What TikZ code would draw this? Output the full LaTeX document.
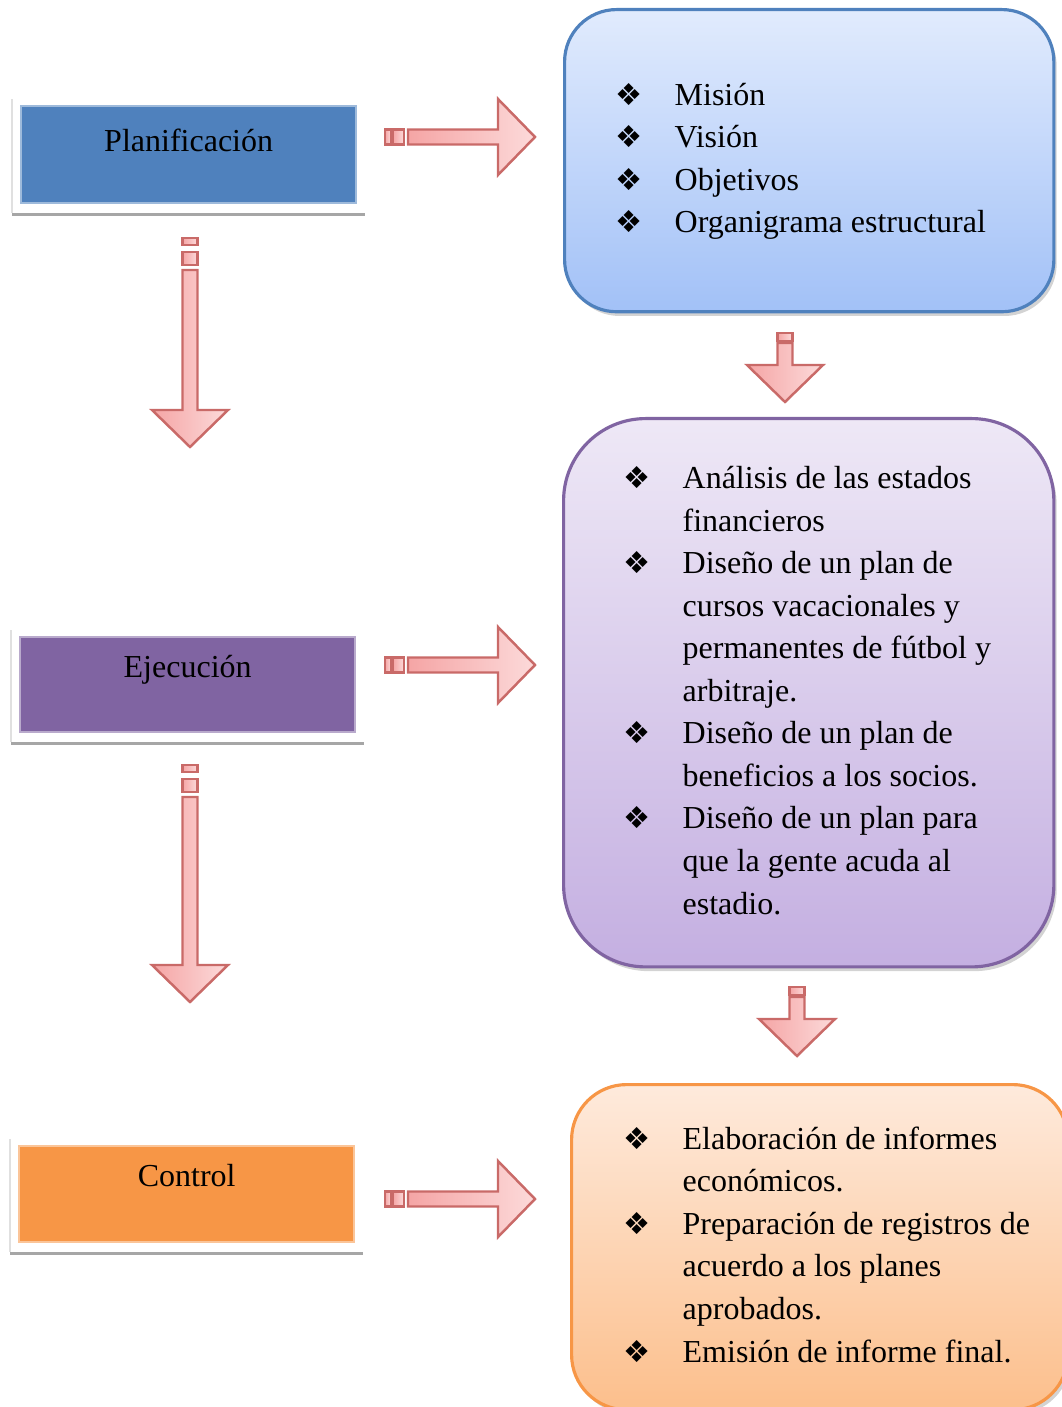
\documentclass[tikz,border=0pt]{standalone}
\usepackage{fontspec}
\setmainfont{Liberation Serif}
\newfontfamily\simbolos{DejaVu Sans}
\usetikzlibrary{shadows}

\definecolor{azul}{HTML}{4F81BD}
\definecolor{morado}{HTML}{8064A2}
\definecolor{naranja}{HTML}{F79646}
\definecolor{azularriba}{HTML}{E1EBFD}
\definecolor{azulabajo}{HTML}{A2C1F7}
\definecolor{moradoarriba}{HTML}{EEE8F6}
\definecolor{moradoabajo}{HTML}{C4AFE1}
\definecolor{naranjaarriba}{HTML}{FEEADC}
\definecolor{naranjaabajo}{HTML}{FCBF8C}
\definecolor{rojoborde}{HTML}{C0504D}
\definecolor{rosaosc}{HTML}{F5A5A5}
\definecolor{rosacla}{HTML}{FCDADA}

\newcommand{\vin}{\hspace*{-0.05cm}{\simbolos\fontsize{8.6}{8}\selectfont ❖}}
\newcommand{\lista}[2]{\makebox[#1][l]{\begin{tabular}{@{}p{0.54cm}@{}l@{}}#2\end{tabular}}}

% flecha de bloque: #1 inicio del tronco, #2 giro, #3 largo del tronco, #4 bloquecitos
\newcommand{\flecha}[4]{%
  \begin{scope}[shift={#1}, rotate=#2]
    \foreach \a/\b in {#4}
      \draw[bloque] (\a,-7.5) rectangle (\b,7.5);
    \draw[bloque] (0,-7.5) -- (#3,-7.5) -- (#3,-38) -- (#3+37,0) -- (#3,38) -- (#3,7.5) -- (0,7.5) -- cycle;
  \end{scope}}

\tikzset{
  etapa/.style={rectangle, anchor=north west, minimum width=3.35cm, inner sep=0pt,
    text height=0.40cm, text depth=0.56cm, line width=0.6pt,
    font=\fontsize{9.1}{12.1}\selectfont},
  caja/.style={rectangle, anchor=north west, line width=0.9pt, inner sep=0pt,
    font=\fontsize{9.1}{12.1}\selectfont,
    drop shadow={shadow xshift=0.8pt, shadow yshift=-1.2pt, opacity=0.35}},
  bloque/.style={draw=rojoborde!85, line width=0.7pt, left color=rosaosc, right color=rosacla, line join=miter},
  sombra/.style={draw=black!35, line width=0.9pt},
}

\begin{document}
\begin{tikzpicture}[x=0.01cm, y=-0.01cm]
  \useasboundingbox (0,0) rectangle (1061,1407);

  % etapas
  \node[etapa, fill=azul, draw=azul!55!white, text height=0.45cm, text depth=0.52cm] (plan) at (20,105) {Planificación};
  \node[etapa, fill=morado, draw=morado!55!white, text depth=0.55cm] (ejec) at (19,636) {Ejecución};
  \node[etapa, fill=naranja, draw=naranja!55!white] (ctrl) at (18,1145) {Control};

  \foreach \n in {plan, ejec, ctrl} {
    \draw[sombra] ([shift={(-8,10)}]\n.south west) -- ([shift={(8,10)}]\n.south east);
    \draw[black!12, line width=0.4pt] ([shift={(-8,-6)}]\n.north west) -- ([shift={(-8,9)}]\n.south west);
  }

  % cajas de la derecha
  \node[caja, draw=azul, top color=azularriba, bottom color=azulabajo,
    minimum width=4.89cm, minimum height=3.02cm, rounded corners=0.52cm] (mision) at (563,8)
    {\lista{3.77cm}{
      \vin & Misión\\
      \vin & Visión\\
      \vin & Objetivos\\
      \vin & Organigrama estructural}};

  \node[caja, draw=morado, top color=moradoarriba, bottom color=moradoabajo,
    minimum width=4.90cm, minimum height=5.48cm, rounded corners=0.82cm] (analisis) at (562,417)
    {\lista{3.60cm}{
      \vin & Análisis de las estados\\
           & financieros\\
      \vin & Diseño de un plan de\\
           & cursos vacacionales y\\
           & permanentes de fútbol y\\
           & arbitraje.\\
      \vin & Diseño de un plan de\\
           & beneficios a los socios.\\
      \vin & Diseño de un plan para\\
           & que la gente acuda al\\
           & estadio.}};

  \node[caja, draw=naranja, top color=naranjaarriba, bottom color=naranjaabajo,
    minimum width=4.96cm, minimum height=3.25cm, rounded corners=0.55cm] (informes) at (570,1083)
    {\lista{3.82cm}{
      \vin & Elaboración de informes\\
           & económicos.\\
      \vin & Preparación de registros de\\
           & acuerdo a los planes\\
           & aprobados.\\
      \vin & Emisión de informe final.}};

  % flechas
  \flecha{(408,137)}{0}{90}{-23/-17,-15/-4}
  \flecha{(408,665)}{0}{90}{-23/-17,-15/-4}
  \flecha{(408,1199)}{0}{90}{-23/-17,-15/-4}
  \flecha{(190,270)}{-90}{140}{-32/-25,-18/-5}
  \flecha{(190,797)}{-90}{168}{-32/-25,-18/-5}
  \flecha{(785,343)}{-90}{22}{-10/-2}
  \flecha{(797,997)}{-90}{22}{-10/-2}
\end{tikzpicture}
\end{document}
